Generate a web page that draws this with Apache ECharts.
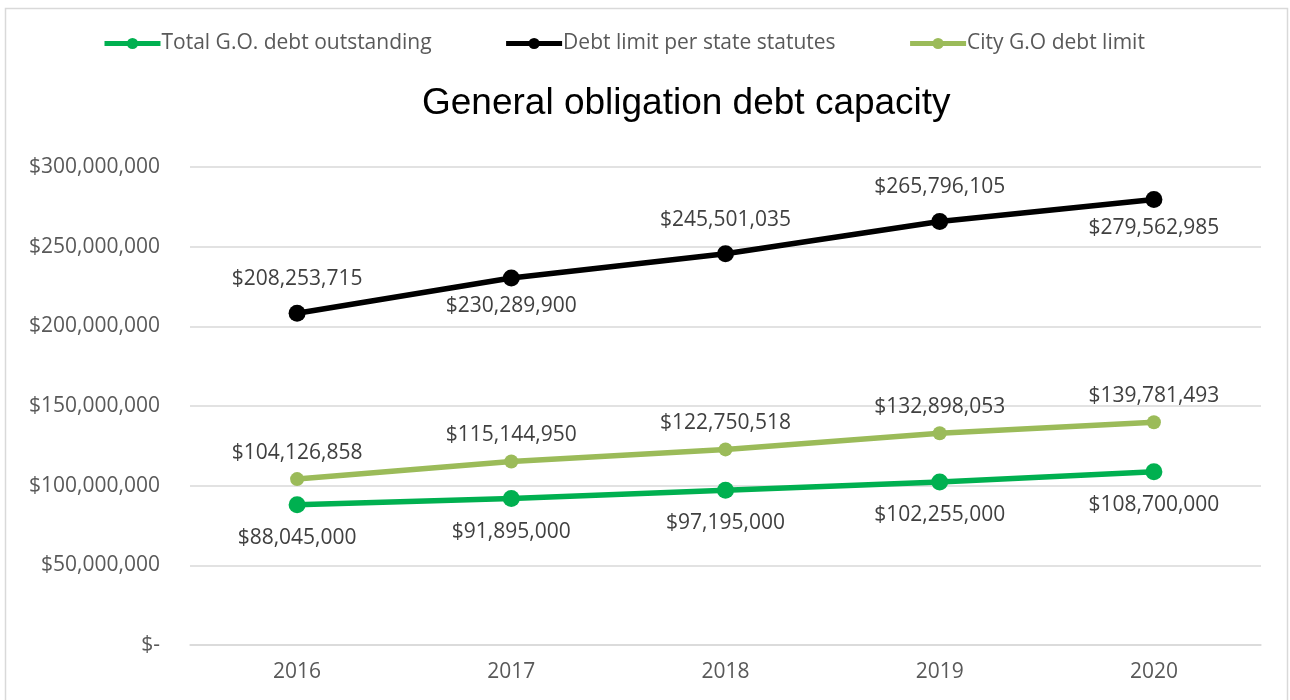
<!DOCTYPE html>
<html>
<head>
<meta charset="utf-8">
<script src="https://cdn.jsdelivr.net/npm/echarts@6/dist/echarts.min.js"></script>
<style>
html,body{margin:0;padding:0;background:#fff;}
#chart{width:1290px;height:700px;}
</style>
</head>
<body>
<div id="chart"></div>
<script>
const years = ['2016', '2017', '2018', '2019', '2020'];
const totalOutstanding = [88045000, 91895000, 97195000, 102255000, 108700000];
const stateLimit = [208253715, 230289900, 245501035, 265796105, 279562985];
const cityLimit = [104126858, 115144950, 122750518, 132898053, 139781493];
const stateLabelPos = ['top', 'bottom', 'top', 'top', 'bottom'];

const FONT = 'Open Sans';
const fmt = v => v === 0 ? '$-' : '$' + Math.round(v).toLocaleString('en-US');

const chart = echarts.init(document.getElementById('chart'));
const lbl = (pos, dist) => ({
  show: true, position: pos, distance: dist,
  formatter: p => fmt(p.value),
  color: '#404040', fontFamily: FONT, fontSize: 21
});
chart.setOption({
  animation: false,
  graphic: [{
    type: 'rect', shape: {x: 5.5, y: 8.5, width: 1282, height: 720},
    style: {fill: 'none', stroke: '#d9d9d9', lineWidth: 1.5}, silent: true
  }],
  title: {
    text: 'General obligation debt capacity', left: 417, top: 80,
    textStyle: {fontFamily: 'Liberation Sans', fontSize: 37, fontWeight: 'normal', color: '#000'}
  },
  legend: {
    left: 97, top: 28, itemWidth: 56, itemHeight: 14, itemGap: 72,
    lineStyle: {width: 5},
    textStyle: {fontFamily: FONT, fontSize: 21, color: '#595959', padding: [0, 0, 0, -4]},
    data: ['Total G.O. debt outstanding', 'Debt limit per state statutes', 'City G.O debt limit']
  },
  grid: {left: 190, right: 29, top: 167, bottom: 55},
  xAxis: {
    type: 'category', data: years, boundaryGap: true,
    axisLine: {lineStyle: {color: '#d9d9d9', width: 1.5}},
    axisTick: {show: false},
    axisLabel: {color: '#595959', fontFamily: FONT, fontSize: 21, margin: 17}
  },
  yAxis: {
    type: 'value', min: 0, max: 300000000, interval: 50000000,
    axisLine: {show: false}, axisTick: {show: false},
    splitLine: {lineStyle: {color: '#d9d9d9', width: 1.5}},
    axisLabel: {color: '#595959', fontFamily: FONT, fontSize: 21, margin: 30, formatter: fmt}
  },
  series: [
    {
      name: 'Total G.O. debt outstanding', type: 'line', data: totalOutstanding,
      symbol: 'circle', symbolSize: 17, color: '#00B050',
      lineStyle: {width: 5.5, color: '#00B050'},
      label: lbl('bottom', 14)
    },
    {
      name: 'Debt limit per state statutes', type: 'line',
      data: stateLimit.map((v, i) => ({
        value: v,
        label: {position: stateLabelPos[i], distance: stateLabelPos[i] === 'top' ? 15 : 9}
      })),
      symbol: 'circle', symbolSize: 17, color: '#000000',
      lineStyle: {width: 5.5, color: '#000000'},
      label: lbl('top', 15)
    },
    {
      name: 'City G.O debt limit', type: 'line', data: cityLimit,
      symbol: 'circle', symbolSize: 14, color: '#9BBB59',
      lineStyle: {width: 5.5, color: '#9BBB59'},
      label: lbl('top', 9)
    }
  ]
});
</script>
</body>
</html>
